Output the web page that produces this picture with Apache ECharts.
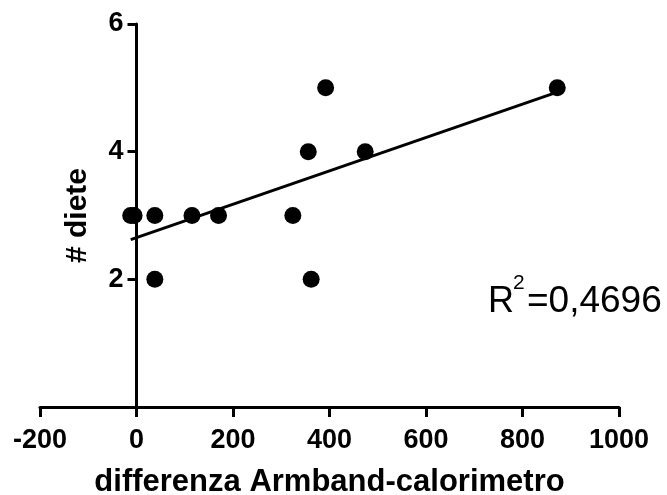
<!DOCTYPE html>
<html>
<head>
<meta charset="utf-8">
<script src="https://cdn.jsdelivr.net/npm/echarts@6/dist/echarts.min.js"></script>
<style>
  html, body { margin: 0; padding: 0; background: #fff; }
  #chart { width: 667px; height: 495px; }
</style>
</head>
<body>
<div id="chart"></div>
<script>
// differenza Armband-calorimetro vs numero di diete
const diffArmband = [-12, -5, 38, 38, 115, 170, 324, 356, 362, 392, 474, 872];
const numDiete = [3, 3, 3, 2, 3, 3, 3, 4, 2, 5, 4, 5];
const r2Label = '=0,4696';

const font = 'Liberation Sans, Arial, sans-serif';

// retta di regressione (minimi quadrati) sui dati
const n = diffArmband.length;
const mx = diffArmband.reduce((a, b) => a + b, 0) / n;
const my = numDiete.reduce((a, b) => a + b, 0) / n;
let sxy = 0, sxx = 0;
for (let i = 0; i < n; i++) {
  sxy += (diffArmband[i] - mx) * (numDiete[i] - my);
  sxx += (diffArmband[i] - mx) * (diffArmband[i] - mx);
}
const slope = sxy / sxx;
const intercept = my - slope * mx;
const xMin = Math.min(...diffArmband);
const xMax = Math.max(...diffArmband);
const fitLine = [[xMin, intercept + slope * xMin], [xMax, intercept + slope * xMax]];

const gridLeft = 40, gridRight = 48;
const plotW = 667 - gridLeft - gridRight;
// l'asse y sta su x = 0
const yAxisOffset = -plotW * (0 - (-200)) / (1000 - (-200));

const chart = echarts.init(document.getElementById('chart'));

chart.setOption({
  animation: false,
  grid: { left: gridLeft, right: gridRight, top: 24, bottom: 88, outerBoundsMode: 'none' },
  xAxis: {
    type: 'value',
    min: -200,
    max: 1000,
    interval: 200,
    name: 'differenza Armband-calorimetro',
    nameLocation: 'middle',
    nameGap: 60,
    nameTextStyle: { fontFamily: font, fontWeight: 'bold', fontSize: 31, color: '#000' },
    axisLine: { onZero: false, lineStyle: { color: '#000', width: 3 } },
    axisTick: { length: 10, lineStyle: { color: '#000', width: 3 } },
    axisLabel: { margin: 20, formatter: v => String(v), fontFamily: font, fontWeight: 'bold', fontSize: 27, color: '#000' },
    splitLine: { show: false }
  },
  yAxis: {
    type: 'value',
    min: 0,
    max: 6,
    interval: 2,
    offset: yAxisOffset,
    name: '# diete',
    nameLocation: 'middle',
    nameGap: 44,
    nameTextStyle: { fontFamily: font, fontWeight: 'bold', fontSize: 30, color: '#000' },
    axisLine: { onZero: false, lineStyle: { color: '#000', width: 3 } },
    axisTick: { length: 9, lineStyle: { color: '#000', width: 3 } },
    axisLabel: { margin: 13, showMinLabel: false, fontFamily: font, fontWeight: 'bold', fontSize: 27, color: '#000' },
    splitLine: { show: false }
  },
  graphic: [
    { type: 'text', left: 488, top: 284, style: { text: 'R', font: '36px ' + font, fill: '#000' } },
    { type: 'text', left: 513, top: 273, style: { text: '2', font: '21px ' + font, fill: '#000' } },
    { type: 'text', left: 527, top: 283, style: { text: r2Label, font: '37px ' + font, fill: '#000' } }
  ],
  series: [
    {
      type: 'line',
      data: fitLine,
      symbol: 'none',
      lineStyle: { color: '#000', width: 3 },
      z: 2
    },
    {
      type: 'scatter',
      data: diffArmband.map((x, i) => [x, numDiete[i]]),
      symbol: 'circle',
      symbolSize: 17,
      itemStyle: { color: '#000', opacity: 1 },
      z: 3
    }
  ]
});
</script>
</body>
</html>
